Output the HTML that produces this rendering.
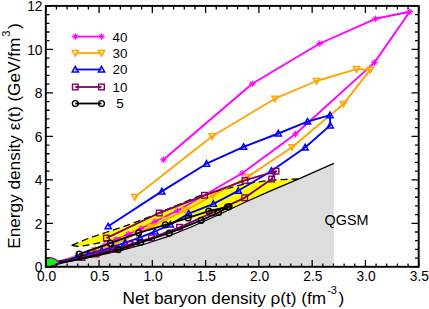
<!DOCTYPE html><html><head><meta charset="utf-8"><style>
html,body{margin:0;padding:0;background:#fff}
#c{position:relative;width:429px;height:309px;overflow:hidden;background:#fff;font-family:"Liberation Sans",sans-serif;color:#000}
.t{position:absolute;white-space:nowrap;line-height:1}
</style></head><body><div id="c">
<svg width="429" height="309" viewBox="0 0 429 309" style="position:absolute;left:0;top:0">
<rect width="429" height="309" fill="#fff"/>
<path d="M46,267 L66,262 L100,255 L124,249.5 L145,244 L166.6,236.8 L190,227.5 L207,220 L223.3,212.5 L246.6,201.5 L270,191.2 L300,178.3 L333.8,163.3 L333.8,267 Z" fill="#dddddd"/>
<path d="M71.7,245.3 L88,238.5 L107,232 L130,224.3 L150,216.5 L175,206 L200,195.7 L223.3,189.6 L246.6,183.5 L270,180.2 L293,179.1 L298.5,179 L298.5,179 L270,191.2 L246.6,201.5 L223.3,212.5 L207,216 L188,219.5 L165,225.5 L138,233.3 L124,236.8 L104.6,241.4 L92,244.6 L78,246.5 Z" fill="#ffff00"/>
<path d="M71.7,245.3 L88,238.5 L107,232 L130,224.3 L150,216.5 L175,206 L200,195.7 L223.3,189.6 L246.6,183.5 L270,180.2 L293,179.1 L298.5,179" fill="none" stroke="#000" stroke-width="1.3" stroke-dasharray="7,4"/>
<path d="M71.7,245.3 L78,246.5 L92,244.6 L104.6,241.4 L124,236.8 L138,233.3" fill="none" stroke="#000" stroke-width="1.3" stroke-dasharray="7,4"/>
<path d="M46,267 L66,262 L100,255 L124,249.5 L145,244 L166.6,236.8 L190,227.5 L207,220 L223.3,212.5 L246.6,201.5 L270,191.2 L300,178.3 L333.8,163.3" fill="none" stroke="#000" stroke-width="1.3"/>
<path d="M163.4,159.8 L252.2,83.8 L319.8,43.5 L375.4,18.8 L409.7,11.7 L374.4,62.6 L295.5,134 L242.2,173.3 L177.5,210.7 L155,221.5 L141,228.5 L128.2,234.3 L116,239.5 L105,245.3 L95,249.6 L86,252.8 L78,255.5 L70,258.2 L63,260.4 L57,262 L46,266" fill="none" stroke="#ff00ff" stroke-width="1.9" stroke-linejoin="round"/>
<line x1="160.10" y1="159.80" x2="166.70" y2="159.80" stroke="#ff00ff" stroke-width="1.1"/><line x1="161.30" y1="157.70" x2="165.50" y2="161.90" stroke="#ff00ff" stroke-width="1.1"/><line x1="163.40" y1="156.50" x2="163.40" y2="163.10" stroke="#ff00ff" stroke-width="1.1"/><line x1="165.50" y1="157.70" x2="161.30" y2="161.90" stroke="#ff00ff" stroke-width="1.1"/>
<line x1="248.90" y1="83.80" x2="255.50" y2="83.80" stroke="#ff00ff" stroke-width="1.1"/><line x1="250.10" y1="81.70" x2="254.30" y2="85.90" stroke="#ff00ff" stroke-width="1.1"/><line x1="252.20" y1="80.50" x2="252.20" y2="87.10" stroke="#ff00ff" stroke-width="1.1"/><line x1="254.30" y1="81.70" x2="250.10" y2="85.90" stroke="#ff00ff" stroke-width="1.1"/>
<line x1="316.50" y1="43.50" x2="323.10" y2="43.50" stroke="#ff00ff" stroke-width="1.1"/><line x1="317.70" y1="41.40" x2="321.90" y2="45.60" stroke="#ff00ff" stroke-width="1.1"/><line x1="319.80" y1="40.20" x2="319.80" y2="46.80" stroke="#ff00ff" stroke-width="1.1"/><line x1="321.90" y1="41.40" x2="317.70" y2="45.60" stroke="#ff00ff" stroke-width="1.1"/>
<line x1="372.10" y1="18.80" x2="378.70" y2="18.80" stroke="#ff00ff" stroke-width="1.1"/><line x1="373.30" y1="16.70" x2="377.50" y2="20.90" stroke="#ff00ff" stroke-width="1.1"/><line x1="375.40" y1="15.50" x2="375.40" y2="22.10" stroke="#ff00ff" stroke-width="1.1"/><line x1="377.50" y1="16.70" x2="373.30" y2="20.90" stroke="#ff00ff" stroke-width="1.1"/>
<line x1="406.40" y1="11.70" x2="413.00" y2="11.70" stroke="#ff00ff" stroke-width="1.1"/><line x1="407.60" y1="9.60" x2="411.80" y2="13.80" stroke="#ff00ff" stroke-width="1.1"/><line x1="409.70" y1="8.40" x2="409.70" y2="15.00" stroke="#ff00ff" stroke-width="1.1"/><line x1="411.80" y1="9.60" x2="407.60" y2="13.80" stroke="#ff00ff" stroke-width="1.1"/>
<line x1="371.10" y1="62.60" x2="377.70" y2="62.60" stroke="#ff00ff" stroke-width="1.1"/><line x1="372.30" y1="60.50" x2="376.50" y2="64.70" stroke="#ff00ff" stroke-width="1.1"/><line x1="374.40" y1="59.30" x2="374.40" y2="65.90" stroke="#ff00ff" stroke-width="1.1"/><line x1="376.50" y1="60.50" x2="372.30" y2="64.70" stroke="#ff00ff" stroke-width="1.1"/>
<line x1="292.20" y1="134.00" x2="298.80" y2="134.00" stroke="#ff00ff" stroke-width="1.1"/><line x1="293.40" y1="131.90" x2="297.60" y2="136.10" stroke="#ff00ff" stroke-width="1.1"/><line x1="295.50" y1="130.70" x2="295.50" y2="137.30" stroke="#ff00ff" stroke-width="1.1"/><line x1="297.60" y1="131.90" x2="293.40" y2="136.10" stroke="#ff00ff" stroke-width="1.1"/>
<line x1="238.90" y1="173.30" x2="245.50" y2="173.30" stroke="#ff00ff" stroke-width="1.1"/><line x1="240.10" y1="171.20" x2="244.30" y2="175.40" stroke="#ff00ff" stroke-width="1.1"/><line x1="242.20" y1="170.00" x2="242.20" y2="176.60" stroke="#ff00ff" stroke-width="1.1"/><line x1="244.30" y1="171.20" x2="240.10" y2="175.40" stroke="#ff00ff" stroke-width="1.1"/>
<line x1="174.20" y1="210.70" x2="180.80" y2="210.70" stroke="#ff00ff" stroke-width="1.1"/><line x1="175.40" y1="208.60" x2="179.60" y2="212.80" stroke="#ff00ff" stroke-width="1.1"/><line x1="177.50" y1="207.40" x2="177.50" y2="214.00" stroke="#ff00ff" stroke-width="1.1"/><line x1="179.60" y1="208.60" x2="175.40" y2="212.80" stroke="#ff00ff" stroke-width="1.1"/>
<line x1="151.70" y1="221.50" x2="158.30" y2="221.50" stroke="#ff00ff" stroke-width="1.1"/><line x1="152.90" y1="219.40" x2="157.10" y2="223.60" stroke="#ff00ff" stroke-width="1.1"/><line x1="155.00" y1="218.20" x2="155.00" y2="224.80" stroke="#ff00ff" stroke-width="1.1"/><line x1="157.10" y1="219.40" x2="152.90" y2="223.60" stroke="#ff00ff" stroke-width="1.1"/>
<line x1="137.70" y1="228.50" x2="144.30" y2="228.50" stroke="#ff00ff" stroke-width="1.1"/><line x1="138.90" y1="226.40" x2="143.10" y2="230.60" stroke="#ff00ff" stroke-width="1.1"/><line x1="141.00" y1="225.20" x2="141.00" y2="231.80" stroke="#ff00ff" stroke-width="1.1"/><line x1="143.10" y1="226.40" x2="138.90" y2="230.60" stroke="#ff00ff" stroke-width="1.1"/>
<line x1="124.90" y1="234.30" x2="131.50" y2="234.30" stroke="#ff00ff" stroke-width="1.1"/><line x1="126.10" y1="232.20" x2="130.30" y2="236.40" stroke="#ff00ff" stroke-width="1.1"/><line x1="128.20" y1="231.00" x2="128.20" y2="237.60" stroke="#ff00ff" stroke-width="1.1"/><line x1="130.30" y1="232.20" x2="126.10" y2="236.40" stroke="#ff00ff" stroke-width="1.1"/>
<line x1="112.70" y1="239.50" x2="119.30" y2="239.50" stroke="#ff00ff" stroke-width="1.1"/><line x1="113.90" y1="237.40" x2="118.10" y2="241.60" stroke="#ff00ff" stroke-width="1.1"/><line x1="116.00" y1="236.20" x2="116.00" y2="242.80" stroke="#ff00ff" stroke-width="1.1"/><line x1="118.10" y1="237.40" x2="113.90" y2="241.60" stroke="#ff00ff" stroke-width="1.1"/>
<line x1="101.70" y1="245.30" x2="108.30" y2="245.30" stroke="#ff00ff" stroke-width="1.1"/><line x1="102.90" y1="243.20" x2="107.10" y2="247.40" stroke="#ff00ff" stroke-width="1.1"/><line x1="105.00" y1="242.00" x2="105.00" y2="248.60" stroke="#ff00ff" stroke-width="1.1"/><line x1="107.10" y1="243.20" x2="102.90" y2="247.40" stroke="#ff00ff" stroke-width="1.1"/>
<line x1="91.70" y1="249.60" x2="98.30" y2="249.60" stroke="#ff00ff" stroke-width="1.1"/><line x1="92.90" y1="247.50" x2="97.10" y2="251.70" stroke="#ff00ff" stroke-width="1.1"/><line x1="95.00" y1="246.30" x2="95.00" y2="252.90" stroke="#ff00ff" stroke-width="1.1"/><line x1="97.10" y1="247.50" x2="92.90" y2="251.70" stroke="#ff00ff" stroke-width="1.1"/>
<path d="M134.8,197.1 L212.2,136.3 L274.9,98.7 L316.5,81 L356.4,69.1 L370.3,69.7 L343.5,103.9 L292,147.2 L247.7,176.9 L212.8,195.5 L185.3,210.5 L165,220 L150,227 L137,233.5 L125,239.5 L114,244.3 L104,247.8 L95,250.6 L86,253.2 L78,255.5 L70,258 L63,260.3 L57,262 L46,266" fill="none" stroke="#ffa500" stroke-width="1.9" stroke-linejoin="round"/>
<path d="M131.70,194.62 L137.90,194.62 L134.80,200.20 Z" fill="none" stroke="#ffa500" stroke-width="1.5"/>
<path d="M209.10,133.82 L215.30,133.82 L212.20,139.40 Z" fill="none" stroke="#ffa500" stroke-width="1.5"/>
<path d="M271.80,96.22 L278.00,96.22 L274.90,101.80 Z" fill="none" stroke="#ffa500" stroke-width="1.5"/>
<path d="M313.40,78.52 L319.60,78.52 L316.50,84.10 Z" fill="none" stroke="#ffa500" stroke-width="1.5"/>
<path d="M353.30,66.62 L359.50,66.62 L356.40,72.20 Z" fill="none" stroke="#ffa500" stroke-width="1.5"/>
<path d="M367.20,67.22 L373.40,67.22 L370.30,72.80 Z" fill="none" stroke="#ffa500" stroke-width="1.5"/>
<path d="M340.40,101.42 L346.60,101.42 L343.50,107.00 Z" fill="none" stroke="#ffa500" stroke-width="1.5"/>
<path d="M288.90,144.72 L295.10,144.72 L292.00,150.30 Z" fill="none" stroke="#ffa500" stroke-width="1.5"/>
<path d="M244.60,174.42 L250.80,174.42 L247.70,180.00 Z" fill="none" stroke="#ffa500" stroke-width="1.5"/>
<path d="M209.70,193.02 L215.90,193.02 L212.80,198.60 Z" fill="none" stroke="#ffa500" stroke-width="1.5"/>
<path d="M182.20,208.02 L188.40,208.02 L185.30,213.60 Z" fill="none" stroke="#ffa500" stroke-width="1.5"/>
<path d="M161.90,217.52 L168.10,217.52 L165.00,223.10 Z" fill="none" stroke="#ffa500" stroke-width="1.5"/>
<path d="M146.90,224.52 L153.10,224.52 L150.00,230.10 Z" fill="none" stroke="#ffa500" stroke-width="1.5"/>
<path d="M133.90,231.02 L140.10,231.02 L137.00,236.60 Z" fill="none" stroke="#ffa500" stroke-width="1.5"/>
<path d="M121.90,237.02 L128.10,237.02 L125.00,242.60 Z" fill="none" stroke="#ffa500" stroke-width="1.5"/>
<path d="M110.90,241.82 L117.10,241.82 L114.00,247.40 Z" fill="none" stroke="#ffa500" stroke-width="1.5"/>
<path d="M100.90,245.32 L107.10,245.32 L104.00,250.90 Z" fill="none" stroke="#ffa500" stroke-width="1.5"/>
<path d="M91.90,248.12 L98.10,248.12 L95.00,253.70 Z" fill="none" stroke="#ffa500" stroke-width="1.5"/>
<path d="M108.2,226.3 L161.8,191.4 L206.5,163.7 L243.6,146.8 L278.3,133.5 L307.5,121.6 L330,115.2 L330.2,125.4 L305.1,147.5 L271.4,171 L238.3,190.8 L213.4,203.8 L188.8,213.6 L170.3,224.6 L155,231.5 L139.8,237.6 L125.1,242.6 L113,246.8 L101.8,250.6 L88.5,253.9 L77,257 L67,259.8 L57,262 L46,266" fill="none" stroke="#0000ff" stroke-width="1.9" stroke-linejoin="round"/>
<path d="M105.10,228.78 L111.30,228.78 L108.20,223.20 Z" fill="none" stroke="#0000ff" stroke-width="1.5"/>
<path d="M158.70,193.88 L164.90,193.88 L161.80,188.30 Z" fill="none" stroke="#0000ff" stroke-width="1.5"/>
<path d="M203.40,166.18 L209.60,166.18 L206.50,160.60 Z" fill="none" stroke="#0000ff" stroke-width="1.5"/>
<path d="M240.50,149.28 L246.70,149.28 L243.60,143.70 Z" fill="none" stroke="#0000ff" stroke-width="1.5"/>
<path d="M275.20,135.98 L281.40,135.98 L278.30,130.40 Z" fill="none" stroke="#0000ff" stroke-width="1.5"/>
<path d="M304.40,124.08 L310.60,124.08 L307.50,118.50 Z" fill="none" stroke="#0000ff" stroke-width="1.5"/>
<path d="M326.90,117.68 L333.10,117.68 L330.00,112.10 Z" fill="none" stroke="#0000ff" stroke-width="1.5"/>
<path d="M327.10,127.88 L333.30,127.88 L330.20,122.30 Z" fill="none" stroke="#0000ff" stroke-width="1.5"/>
<path d="M302.00,149.98 L308.20,149.98 L305.10,144.40 Z" fill="none" stroke="#0000ff" stroke-width="1.5"/>
<path d="M268.30,173.48 L274.50,173.48 L271.40,167.90 Z" fill="none" stroke="#0000ff" stroke-width="1.5"/>
<path d="M235.20,193.28 L241.40,193.28 L238.30,187.70 Z" fill="none" stroke="#0000ff" stroke-width="1.5"/>
<path d="M210.30,206.28 L216.50,206.28 L213.40,200.70 Z" fill="none" stroke="#0000ff" stroke-width="1.5"/>
<path d="M185.70,216.08 L191.90,216.08 L188.80,210.50 Z" fill="none" stroke="#0000ff" stroke-width="1.5"/>
<path d="M167.20,227.08 L173.40,227.08 L170.30,221.50 Z" fill="none" stroke="#0000ff" stroke-width="1.5"/>
<path d="M151.90,233.98 L158.10,233.98 L155.00,228.40 Z" fill="none" stroke="#0000ff" stroke-width="1.5"/>
<path d="M136.70,240.08 L142.90,240.08 L139.80,234.50 Z" fill="none" stroke="#0000ff" stroke-width="1.5"/>
<path d="M122.00,245.08 L128.20,245.08 L125.10,239.50 Z" fill="none" stroke="#0000ff" stroke-width="1.5"/>
<path d="M109.90,249.28 L116.10,249.28 L113.00,243.70 Z" fill="none" stroke="#0000ff" stroke-width="1.5"/>
<path d="M98.70,253.08 L104.90,253.08 L101.80,247.50 Z" fill="none" stroke="#0000ff" stroke-width="1.5"/>
<path d="M85.40,256.38 L91.60,256.38 L88.50,250.80 Z" fill="none" stroke="#0000ff" stroke-width="1.5"/>
<path d="M73.90,259.48 L80.10,259.48 L77.00,253.90 Z" fill="none" stroke="#0000ff" stroke-width="1.5"/>
<path d="M106.4,238.1 L159.2,213 L204.5,195.3 L245,180.4 L276,171.2 L271.7,179 L244.7,197.8 L212,212.8 L179.5,227.3 L151.5,237.8 L130,244.5 L112,249.5 L96,254 L82,257.5 L70,260.2 L62,261.5 L57,262 L46,266" fill="none" stroke="#800060" stroke-width="1.9" stroke-linejoin="round"/>
<rect x="103.60" y="235.30" width="5.6" height="5.6" fill="none" stroke="#800060" stroke-width="1.4"/>
<rect x="156.40" y="210.20" width="5.6" height="5.6" fill="none" stroke="#800060" stroke-width="1.4"/>
<rect x="201.70" y="192.50" width="5.6" height="5.6" fill="none" stroke="#800060" stroke-width="1.4"/>
<rect x="242.20" y="177.60" width="5.6" height="5.6" fill="none" stroke="#800060" stroke-width="1.4"/>
<rect x="273.20" y="168.40" width="5.6" height="5.6" fill="none" stroke="#800060" stroke-width="1.4"/>
<rect x="268.90" y="176.20" width="5.6" height="5.6" fill="none" stroke="#800060" stroke-width="1.4"/>
<rect x="241.90" y="195.00" width="5.6" height="5.6" fill="none" stroke="#800060" stroke-width="1.4"/>
<rect x="209.20" y="210.00" width="5.6" height="5.6" fill="none" stroke="#800060" stroke-width="1.4"/>
<rect x="176.70" y="224.50" width="5.6" height="5.6" fill="none" stroke="#800060" stroke-width="1.4"/>
<rect x="148.70" y="235.00" width="5.6" height="5.6" fill="none" stroke="#800060" stroke-width="1.4"/>
<rect x="127.20" y="241.70" width="5.6" height="5.6" fill="none" stroke="#800060" stroke-width="1.4"/>
<rect x="109.20" y="246.70" width="5.6" height="5.6" fill="none" stroke="#800060" stroke-width="1.4"/>
<rect x="93.20" y="251.20" width="5.6" height="5.6" fill="none" stroke="#800060" stroke-width="1.4"/>
<rect x="79.20" y="254.70" width="5.6" height="5.6" fill="none" stroke="#800060" stroke-width="1.4"/>
<path d="M79.2,254.2 L110.5,243.2 L138.7,232.8 L165.3,224.8 L188.1,217.9 L208.8,211.1 L227.5,207 L229,206.6 L218.6,212.5 L201.1,220.3 L169.2,233.2 L140.5,242.5 L118.4,249.6 L98,255 L80,259 L66,261.6 L57,262 L46,266" fill="none" stroke="#000000" stroke-width="1.9" stroke-linejoin="round"/>
<circle cx="79.20" cy="254.20" r="2.9" fill="none" stroke="#000000" stroke-width="1.4"/>
<circle cx="110.50" cy="243.20" r="2.9" fill="none" stroke="#000000" stroke-width="1.4"/>
<circle cx="138.70" cy="232.80" r="2.9" fill="none" stroke="#000000" stroke-width="1.4"/>
<circle cx="165.30" cy="224.80" r="2.9" fill="none" stroke="#000000" stroke-width="1.4"/>
<circle cx="188.10" cy="217.90" r="2.9" fill="none" stroke="#000000" stroke-width="1.4"/>
<circle cx="208.80" cy="211.10" r="2.9" fill="none" stroke="#000000" stroke-width="1.4"/>
<circle cx="227.50" cy="207.00" r="2.9" fill="none" stroke="#000000" stroke-width="1.4"/>
<circle cx="229.00" cy="206.60" r="2.9" fill="none" stroke="#000000" stroke-width="1.4"/>
<circle cx="218.60" cy="212.50" r="2.9" fill="none" stroke="#000000" stroke-width="1.4"/>
<circle cx="201.10" cy="220.30" r="2.9" fill="none" stroke="#000000" stroke-width="1.4"/>
<circle cx="169.20" cy="233.20" r="2.9" fill="none" stroke="#000000" stroke-width="1.4"/>
<circle cx="140.50" cy="242.50" r="2.9" fill="none" stroke="#000000" stroke-width="1.4"/>
<circle cx="118.40" cy="249.60" r="2.9" fill="none" stroke="#000000" stroke-width="1.4"/>
<path d="M46,257.8 C52,257 57,259.2 58.8,262.2 C55.5,265.4 50,266.6 46,266.6 Z" fill="#00ff00" stroke="#a000a0" stroke-width="1.2"/>
<rect x="45.8" y="5.9" width="372.9" height="260.90000000000003" fill="none" stroke="#000" stroke-width="1.9"/>
<path d="M45.80,266.8 v-6.7 M45.80,5.9 v7.2 M56.45,266.8 v-3.2 M56.45,5.9 v3.7 M67.11,266.8 v-3.2 M67.11,5.9 v3.7 M77.76,266.8 v-3.2 M77.76,5.9 v3.7 M88.42,266.8 v-3.2 M88.42,5.9 v3.7 M99.07,266.8 v-6.7 M99.07,5.9 v7.2 M109.73,266.8 v-3.2 M109.73,5.9 v3.7 M120.38,266.8 v-3.2 M120.38,5.9 v3.7 M131.03,266.8 v-3.2 M131.03,5.9 v3.7 M141.69,266.8 v-3.2 M141.69,5.9 v3.7 M152.34,266.8 v-6.7 M152.34,5.9 v7.2 M163.00,266.8 v-3.2 M163.00,5.9 v3.7 M173.65,266.8 v-3.2 M173.65,5.9 v3.7 M184.31,266.8 v-3.2 M184.31,5.9 v3.7 M194.96,266.8 v-3.2 M194.96,5.9 v3.7 M205.61,266.8 v-6.7 M205.61,5.9 v7.2 M216.27,266.8 v-3.2 M216.27,5.9 v3.7 M226.92,266.8 v-3.2 M226.92,5.9 v3.7 M237.58,266.8 v-3.2 M237.58,5.9 v3.7 M248.23,266.8 v-3.2 M248.23,5.9 v3.7 M258.89,266.8 v-6.7 M258.89,5.9 v7.2 M269.54,266.8 v-3.2 M269.54,5.9 v3.7 M280.19,266.8 v-3.2 M280.19,5.9 v3.7 M290.85,266.8 v-3.2 M290.85,5.9 v3.7 M301.50,266.8 v-3.2 M301.50,5.9 v3.7 M312.16,266.8 v-6.7 M312.16,5.9 v7.2 M322.81,266.8 v-3.2 M322.81,5.9 v3.7 M333.47,266.8 v-3.2 M333.47,5.9 v3.7 M344.12,266.8 v-3.2 M344.12,5.9 v3.7 M354.77,266.8 v-3.2 M354.77,5.9 v3.7 M365.43,266.8 v-6.7 M365.43,5.9 v7.2 M376.08,266.8 v-3.2 M376.08,5.9 v3.7 M386.74,266.8 v-3.2 M386.74,5.9 v3.7 M397.39,266.8 v-3.2 M397.39,5.9 v3.7 M408.05,266.8 v-3.2 M408.05,5.9 v3.7 M418.70,266.8 v-6.7 M418.70,5.9 v7.2 M45.8,266.80 h7.2 M418.7,266.80 h-7.2 M45.8,258.10 h3.7 M418.7,258.10 h-3.7 M45.8,249.41 h3.7 M418.7,249.41 h-3.7 M45.8,240.71 h3.7 M418.7,240.71 h-3.7 M45.8,232.01 h3.7 M418.7,232.01 h-3.7 M45.8,223.32 h7.2 M418.7,223.32 h-7.2 M45.8,214.62 h3.7 M418.7,214.62 h-3.7 M45.8,205.92 h3.7 M418.7,205.92 h-3.7 M45.8,197.23 h3.7 M418.7,197.23 h-3.7 M45.8,188.53 h3.7 M418.7,188.53 h-3.7 M45.8,179.83 h7.2 M418.7,179.83 h-7.2 M45.8,171.14 h3.7 M418.7,171.14 h-3.7 M45.8,162.44 h3.7 M418.7,162.44 h-3.7 M45.8,153.74 h3.7 M418.7,153.74 h-3.7 M45.8,145.05 h3.7 M418.7,145.05 h-3.7 M45.8,136.35 h7.2 M418.7,136.35 h-7.2 M45.8,127.65 h3.7 M418.7,127.65 h-3.7 M45.8,118.96 h3.7 M418.7,118.96 h-3.7 M45.8,110.26 h3.7 M418.7,110.26 h-3.7 M45.8,101.56 h3.7 M418.7,101.56 h-3.7 M45.8,92.87 h7.2 M418.7,92.87 h-7.2 M45.8,84.17 h3.7 M418.7,84.17 h-3.7 M45.8,75.47 h3.7 M418.7,75.47 h-3.7 M45.8,66.78 h3.7 M418.7,66.78 h-3.7 M45.8,58.08 h3.7 M418.7,58.08 h-3.7 M45.8,49.38 h7.2 M418.7,49.38 h-7.2 M45.8,40.69 h3.7 M418.7,40.69 h-3.7 M45.8,31.99 h3.7 M418.7,31.99 h-3.7 M45.8,23.29 h3.7 M418.7,23.29 h-3.7 M45.8,14.60 h3.7 M418.7,14.60 h-3.7 M45.8,5.90 h7.2 M418.7,5.90 h-7.2" stroke="#000" stroke-width="1.3" fill="none"/>
<line x1="75.3" y1="36.6" x2="101.5" y2="36.6" stroke="#ff00ff" stroke-width="1.8"/>
<line x1="72.00" y1="36.60" x2="78.60" y2="36.60" stroke="#ff00ff" stroke-width="1.1"/><line x1="73.20" y1="34.50" x2="77.40" y2="38.70" stroke="#ff00ff" stroke-width="1.1"/><line x1="75.30" y1="33.30" x2="75.30" y2="39.90" stroke="#ff00ff" stroke-width="1.1"/><line x1="77.40" y1="34.50" x2="73.20" y2="38.70" stroke="#ff00ff" stroke-width="1.1"/>
<line x1="98.20" y1="36.60" x2="104.80" y2="36.60" stroke="#ff00ff" stroke-width="1.1"/><line x1="99.40" y1="34.50" x2="103.60" y2="38.70" stroke="#ff00ff" stroke-width="1.1"/><line x1="101.50" y1="33.30" x2="101.50" y2="39.90" stroke="#ff00ff" stroke-width="1.1"/><line x1="103.60" y1="34.50" x2="99.40" y2="38.70" stroke="#ff00ff" stroke-width="1.1"/>
<line x1="75.3" y1="53.1" x2="101.5" y2="53.1" stroke="#ffa500" stroke-width="1.8"/>
<path d="M72.20,50.62 L78.40,50.62 L75.30,56.20 Z" fill="none" stroke="#ffa500" stroke-width="1.5"/>
<path d="M98.40,50.62 L104.60,50.62 L101.50,56.20 Z" fill="none" stroke="#ffa500" stroke-width="1.5"/>
<line x1="75.3" y1="69.5" x2="101.5" y2="69.5" stroke="#0000ff" stroke-width="1.8"/>
<path d="M72.20,71.98 L78.40,71.98 L75.30,66.40 Z" fill="none" stroke="#0000ff" stroke-width="1.5"/>
<path d="M98.40,71.98 L104.60,71.98 L101.50,66.40 Z" fill="none" stroke="#0000ff" stroke-width="1.5"/>
<line x1="75.3" y1="87.0" x2="101.5" y2="87.0" stroke="#800060" stroke-width="1.8"/>
<rect x="72.50" y="84.20" width="5.6" height="5.6" fill="none" stroke="#800060" stroke-width="1.4"/>
<rect x="98.70" y="84.20" width="5.6" height="5.6" fill="none" stroke="#800060" stroke-width="1.4"/>
<line x1="75.3" y1="103.5" x2="101.5" y2="103.5" stroke="#000000" stroke-width="1.8"/>
<circle cx="75.30" cy="103.50" r="2.9" fill="none" stroke="#000000" stroke-width="1.4"/>
<circle cx="101.50" cy="103.50" r="2.9" fill="none" stroke="#000000" stroke-width="1.4"/>
</svg>
<div class="t" style="font-size:13.8px;left:26.5px;width:40px;text-align:center;top:270px">0.0</div>
<div class="t" style="font-size:13.8px;left:79.8px;width:40px;text-align:center;top:270px">0.5</div>
<div class="t" style="font-size:13.8px;left:133.0px;width:40px;text-align:center;top:270px">1.0</div>
<div class="t" style="font-size:13.8px;left:186.3px;width:40px;text-align:center;top:270px">1.5</div>
<div class="t" style="font-size:13.8px;left:239.6px;width:40px;text-align:center;top:270px">2.0</div>
<div class="t" style="font-size:13.8px;left:292.9px;width:40px;text-align:center;top:270px">2.5</div>
<div class="t" style="font-size:13.8px;left:346.1px;width:40px;text-align:center;top:270px">3.0</div>
<div class="t" style="font-size:13.8px;left:399.4px;width:40px;text-align:center;top:270px">3.5</div>
<div class="t" style="font-size:13.8px;left:0px;width:42.5px;text-align:right;top:261.3px">0</div>
<div class="t" style="font-size:13.8px;left:0px;width:42.5px;text-align:right;top:217.8px">2</div>
<div class="t" style="font-size:13.8px;left:0px;width:42.5px;text-align:right;top:174.3px">4</div>
<div class="t" style="font-size:13.8px;left:0px;width:42.5px;text-align:right;top:130.8px">6</div>
<div class="t" style="font-size:13.8px;left:0px;width:42.5px;text-align:right;top:87.4px">8</div>
<div class="t" style="font-size:13.8px;left:0px;width:42.5px;text-align:right;top:43.9px">10</div>
<div class="t" style="font-size:13.8px;left:0px;width:42.5px;text-align:right;top:0.4px">12</div>
<div class="t" style="font-size:13.4px;left:100px;width:40px;text-align:center;top:30.5px">40</div>
<div class="t" style="font-size:13.4px;left:100px;width:40px;text-align:center;top:47.0px">30</div>
<div class="t" style="font-size:13.4px;left:100px;width:40px;text-align:center;top:63.4px">20</div>
<div class="t" style="font-size:13.4px;left:100px;width:40px;text-align:center;top:80.9px">10</div>
<div class="t" style="font-size:13.4px;left:100px;width:40px;text-align:center;top:97.4px">5</div>
<div class="t" style="font-size:14.4px;left:324.6px;top:212.6px">QGSM</div>
<div class="t" id="xl" style="font-size:17.2px;left:122.5px;top:290px">Net baryon density ρ(t) (fm<span style="font-size:11px;position:relative;top:-10.5px;margin:0 1.5px 0 1px">-3</span>)</div>
<div class="t" id="yl" style="font-size:17.2px;left:15px;top:136px;transform:translate(-50%,-50%) rotate(-90deg)">Energy density ε(t) (GeV/fm<span style="font-size:11px;position:relative;top:-10.5px;margin:0 1.5px 0 1px">3</span>)</div>
</div></body></html>
